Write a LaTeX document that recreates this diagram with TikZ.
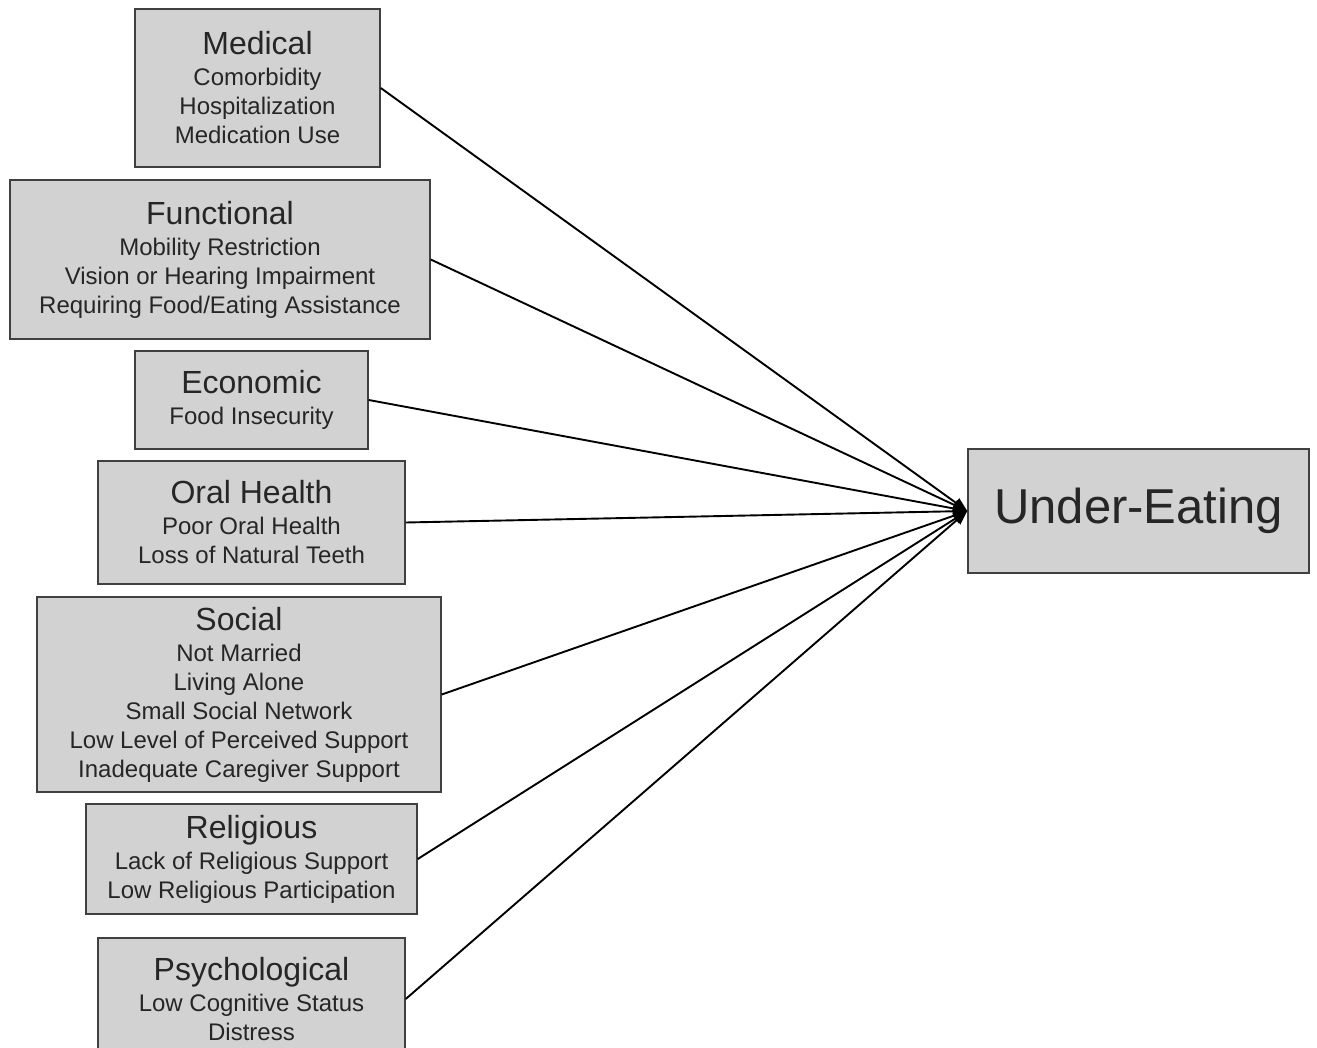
\documentclass[tikz,border=0pt]{standalone}
\usepackage{fontspec}
\setmainfont{Liberation Sans}
\usetikzlibrary{arrows.meta}

\newcommand{\headfont}{\fontsize{32}{30}\selectfont}
\newcommand{\itemfont}{\fontsize{24}{29}\selectfont}
\tikzset{factor/.style={draw=black!75, line width=1.5pt, fill=gray!35, text=black!85,
    align=center, inner sep=0pt, font=\itemfont}}

\begin{document}
\begin{tikzpicture}[x=1pt, y=-1pt,
    link/.style={-{Triangle[length=14pt, width=11pt]}, line width=1.9pt}]
    \useasboundingbox (0,0) rectangle (1317,1048);
    \clip (0,0) rectangle (1317,1048);

    \node[factor, minimum width=245pt, minimum height=158pt] (med) at (257.5,88)
        {{\headfont Medical}\\[2pt]Comorbidity\\Hospitalization\\Medication Use};
    \node[factor, minimum width=420pt, minimum height=159pt] (func) at (220,259.5)
        {{\headfont Functional}\\[2pt]Mobility Restriction\\Vision or Hearing Impairment\\Requiring Food/Eating Assistance};
    \node[factor, minimum width=233pt, minimum height=98pt] (econ) at (251.5,400)
        {{\headfont Economic}\\[2pt]Food Insecurity};
    \node[factor, minimum width=307pt, minimum height=123pt] (oral) at (251.5,522.5)
        {{\headfont Oral Health}\\[2pt]Poor Oral Health\\Loss of Natural Teeth};
    \node[factor, minimum width=404pt, minimum height=195pt] (soc) at (239,694.5)
        {{\headfont Social}\\[2pt]Not Married\\Living Alone\\Small Social Network\\Low Level of Perceived Support\\Inadequate Caregiver Support};
    \node[factor, minimum width=331pt, minimum height=110pt] (rel) at (251.5,859)
        {{\headfont Religious}\\[2pt]Lack of Religious Support\\Low Religious Participation};
    \node[factor, minimum width=307pt, minimum height=122pt] (psy) at (251.5,999)
        {{\headfont Psychological}\\[2pt]Low Cognitive Status\\Distress};

    \node[factor, minimum width=341pt, minimum height=124pt,
        font=\fontsize{49}{55}\selectfont] (ue) at (1138.5,511) {Under-Eating};

    % every factor points at the outcome
    \foreach \f in {med,func,econ,oral,soc,rel,psy}
        \draw[link] (\f.east) -- (ue.west);
\end{tikzpicture}
\end{document}
